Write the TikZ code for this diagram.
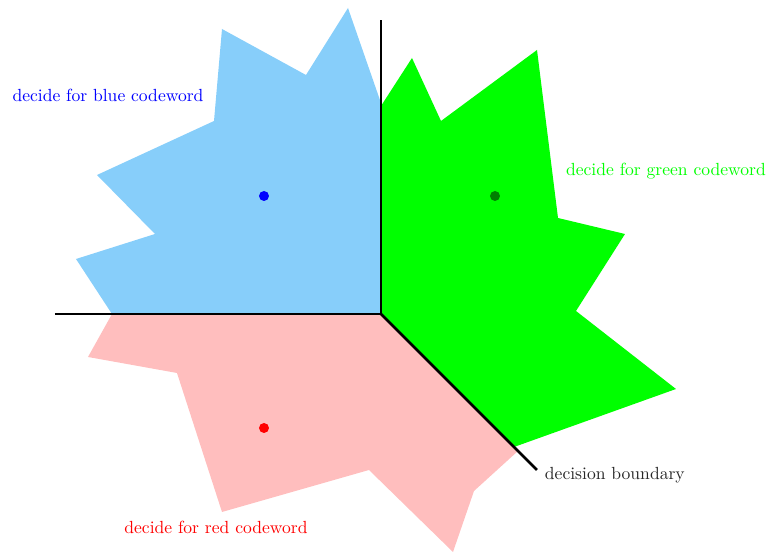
\documentclass[tikz,border=0pt]{standalone}
\usepackage{tikz}
\usetikzlibrary{positioning}
\definecolor{fblue}{RGB}{135,206,250}
\definecolor{fgreen}{RGB}{0,255,0}
\definecolor{fred}{RGB}{255,190,190}
\definecolor{dgreen}{RGB}{0,128,0}
\tikzset{
  cwdot/.style={circle, inner sep=0pt, minimum size=0.2cm},
  rlab/.style={font=\normalsize},
  bline/.style={black, line width=1.6pt},
}

\begin{document}
\begin{tikzpicture}[scale=1.0]
  \useasboundingbox (-7.62,-4.76) rectangle (7.70,6.28);
  % decision regions
  \fill[fblue] (0,0) -- (-5.38,0) -- (-6.10,1.10) -- (-4.52,1.60) -- (-5.68,2.78)
    -- (-3.34,3.86) -- (-3.18,5.70) -- (-1.50,4.78) -- (-0.66,6.12) -- (0,4.22) -- cycle;
  \fill[fgreen] (0,0) -- (0,4.16) -- (0.62,5.12) -- (1.20,3.86) -- (3.12,5.28)
    -- (3.54,1.92) -- (4.88,1.60) -- (3.90,0.06) -- (5.90,-1.50) -- (2.66,-2.66) -- cycle;
  \fill[fred] (0,0) -- (-5.38,0) -- (-5.86,-0.86) -- (-4.08,-1.18) -- (-3.18,-3.96)
    -- (-0.24,-3.12) -- (1.44,-4.76) -- (1.86,-3.54) -- (2.74,-2.74) -- cycle;
  % boundaries
  \coordinate (o) at (0,0);
  \coordinate (bl) at (-6.52,0);
  \coordinate (bt) at (0,5.88);
  \coordinate (bd) at (3.12,-3.12);
  \draw[bline] (bl) -- (o) -- (bt);
  \draw[bline] (o) -- (bd);
  \node[rlab, text=black!85, anchor=west, xshift=1pt, yshift=-2.8pt] (blab) at (bd) {decision boundary};
  % codewords
  \node[cwdot, fill=blue] (cb) at (-2.34,2.36) {};
  \node[cwdot, fill=dgreen] (cg) at (2.28,2.36) {};
  \node[cwdot, fill=red] (cr) at (-2.34,-2.28) {};
  \node[rlab, text=blue] (lb) at (-5.46,4.38) {decide for blue codeword};
  \node[rlab, text=green] (lg) at (5.70,2.86) {decide for green codeword};
  \node[rlab, text=red] (lr) at (-3.30,-4.26) {decide for red codeword};
\end{tikzpicture}
\end{document}
